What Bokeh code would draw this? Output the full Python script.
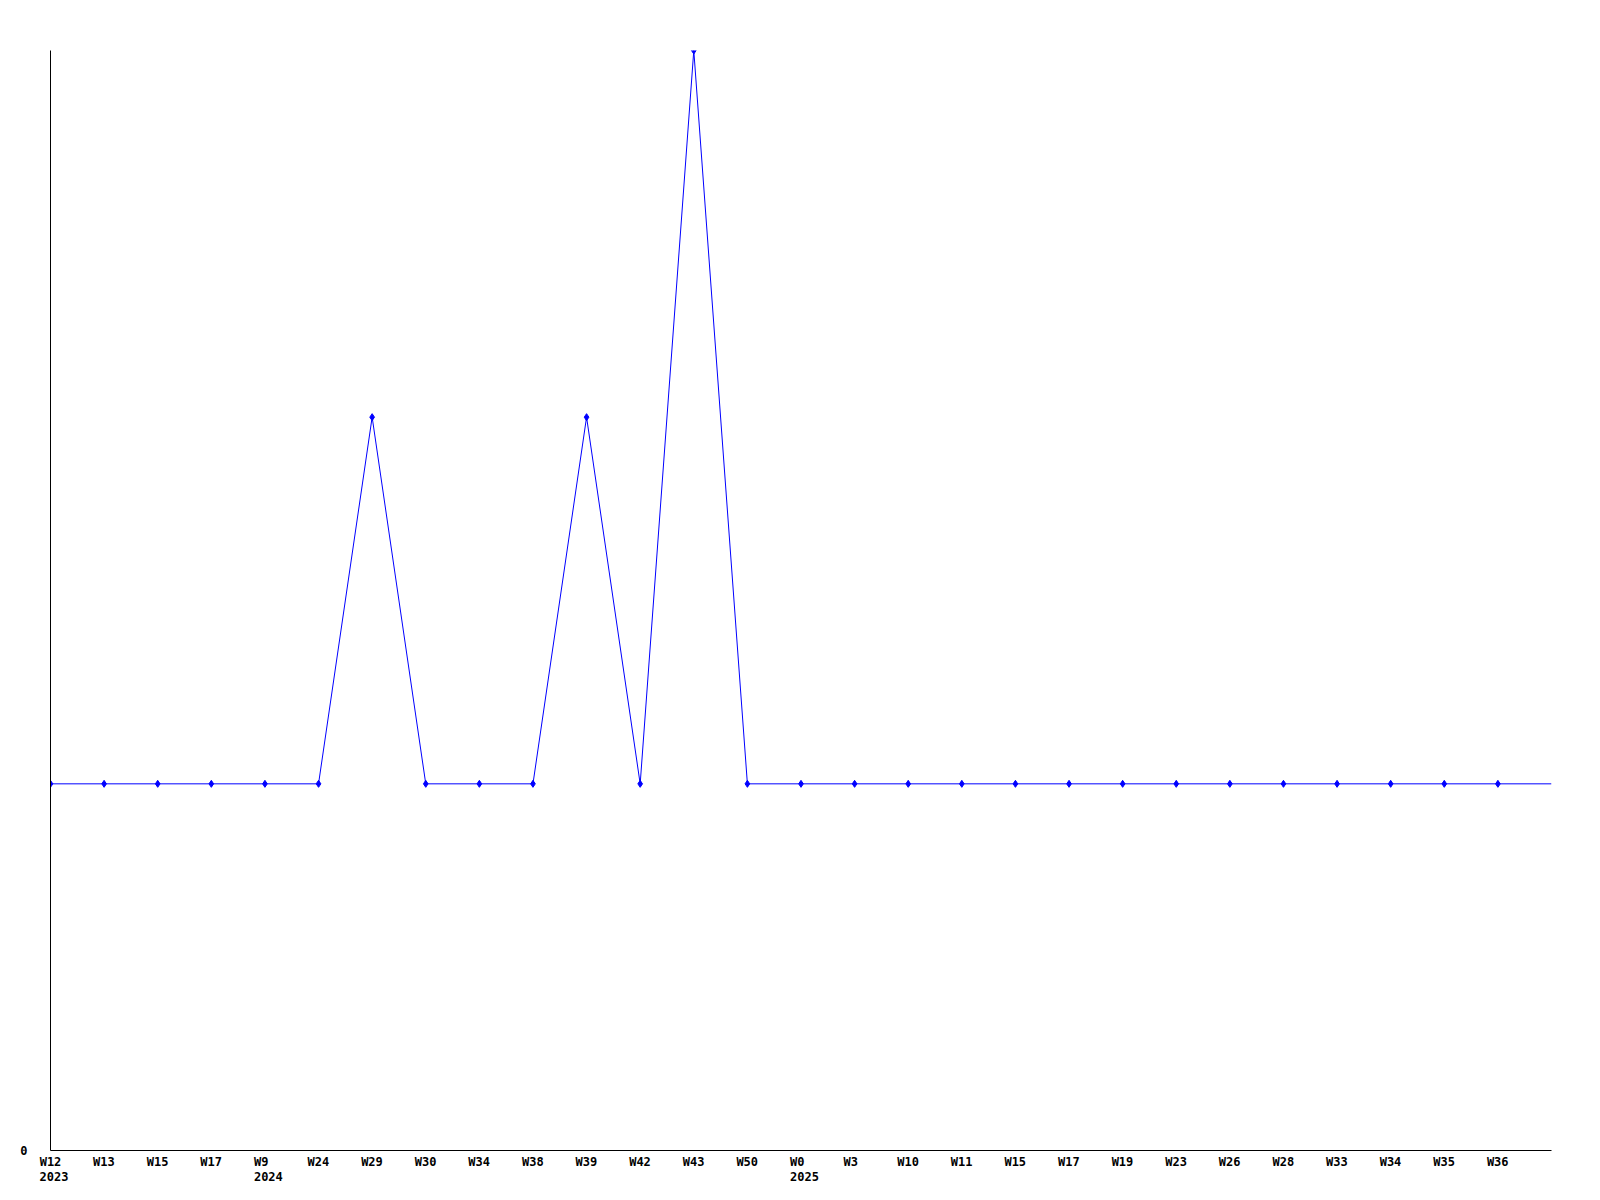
from bokeh.plotting import figure
from bokeh.models import ColumnDataSource, Range1d, LinearAxis, FixedTicker
from bokeh.embed import file_html
from bokeh.resources import INLINE

weeks = ["W12", "W13", "W15", "W17", "W9", "W24", "W29", "W30", "W34", "W38",
         "W39", "W42", "W43", "W50", "W0", "W3", "W10", "W11", "W15", "W17",
         "W19", "W23", "W26", "W28", "W33", "W34", "W35", "W36"]
years = ["2023", "", "", "", "2024", "", "", "", "", "",
         "", "", "", "", "2025", "", "", "", "", "",
         "", "", "", "", "", "", "", ""]
# series continues one step past the last labelled week (runs to the plot edge)
values = [1, 1, 1, 1, 1, 1, 2, 1, 1, 1,
          2, 1, 3, 1, 1, 1, 1, 1, 1, 1,
          1, 1, 1, 1, 1, 1, 1, 1, 1]
y_ticks = [0]

FONT = "DejaVu Sans Mono"
FONT_PX = 12
CHAR_W = 0.602 * FONT_PX
FRAME_W = 1501
LEFT_PAD = 11  # labels start this many px left of their point

xs_all = list(range(len(values)))
n = len(weeks)
x_end = len(values) - 1
px_per_unit = FRAME_W / x_end

p = figure(width=1590, height=1190, output_backend="svg", toolbar_location=None,
           x_range=Range1d(0, x_end), y_range=Range1d(0, max(values)),
           x_axis_location=None, y_axis_location="left",
           min_border_left=50, min_border_right=39, min_border_top=50, min_border_bottom=40)
p.background_fill_color = "white"
p.border_fill_color = "white"
p.outline_line_color = None
p.grid.visible = False

def style_axis(ax, line=True):
    ax.major_tick_line_color = None
    ax.minor_tick_line_color = None
    ax.major_tick_out = 0
    ax.major_tick_in = 0
    ax.minor_tick_out = 0
    ax.axis_line_color = "black" if line else None
    ax.axis_line_width = 1
    ax.major_label_text_font = FONT
    ax.major_label_text_font_style = "bold"
    ax.major_label_text_font_size = f"{FONT_PX}px"
    ax.major_label_text_color = "black"

def left_aligned_ticks(indices, labels):
    # axis labels are centred on their tick: move each tick so the text starts LEFT_PAD px left of its point
    ticks, overrides = [], {}
    for i, lab in zip(indices, labels):
        t = round(i + (len(lab) * CHAR_W / 2 - LEFT_PAD) / px_per_unit, 6)
        if t < 0:
            t = 0.0
        ticks.append(t)
        overrides[t] = lab
    return ticks, overrides

yax = p.yaxis[0]
yax.ticker = FixedTicker(ticks=y_ticks)
yax.major_label_overrides = {t: str(t) for t in y_ticks}
style_axis(yax)
yax.major_label_standoff = 23

wk_ticks, wk_over = left_aligned_ticks(range(n), weeks)
wk_axis = LinearAxis(ticker=FixedTicker(ticks=wk_ticks), major_label_overrides=wk_over)
style_axis(wk_axis)
wk_axis.major_label_standoff = 4
p.add_layout(wk_axis, "below")

yr_idx = [i for i, y in enumerate(years) if y]
yr_ticks, yr_over = left_aligned_ticks(yr_idx, [years[i] for i in yr_idx])
yr_axis = LinearAxis(ticker=FixedTicker(ticks=yr_ticks), major_label_overrides=yr_over)
style_axis(yr_axis, line=False)
yr_axis.major_label_standoff = 0
p.add_layout(yr_axis, "below")

line_src = ColumnDataSource(dict(x=xs_all, y=values))
p.line("x", "y", source=line_src, line_color="#0000ff", line_width=1)

pt_src = ColumnDataSource(dict(x=xs_all[:n], y=values[:n]))
p.scatter("x", "y", source=pt_src, marker="diamond", size=7,
          fill_color="#0000ff", line_color="#0000ff")

open("out.html", "w").write(file_html(p, INLINE))
